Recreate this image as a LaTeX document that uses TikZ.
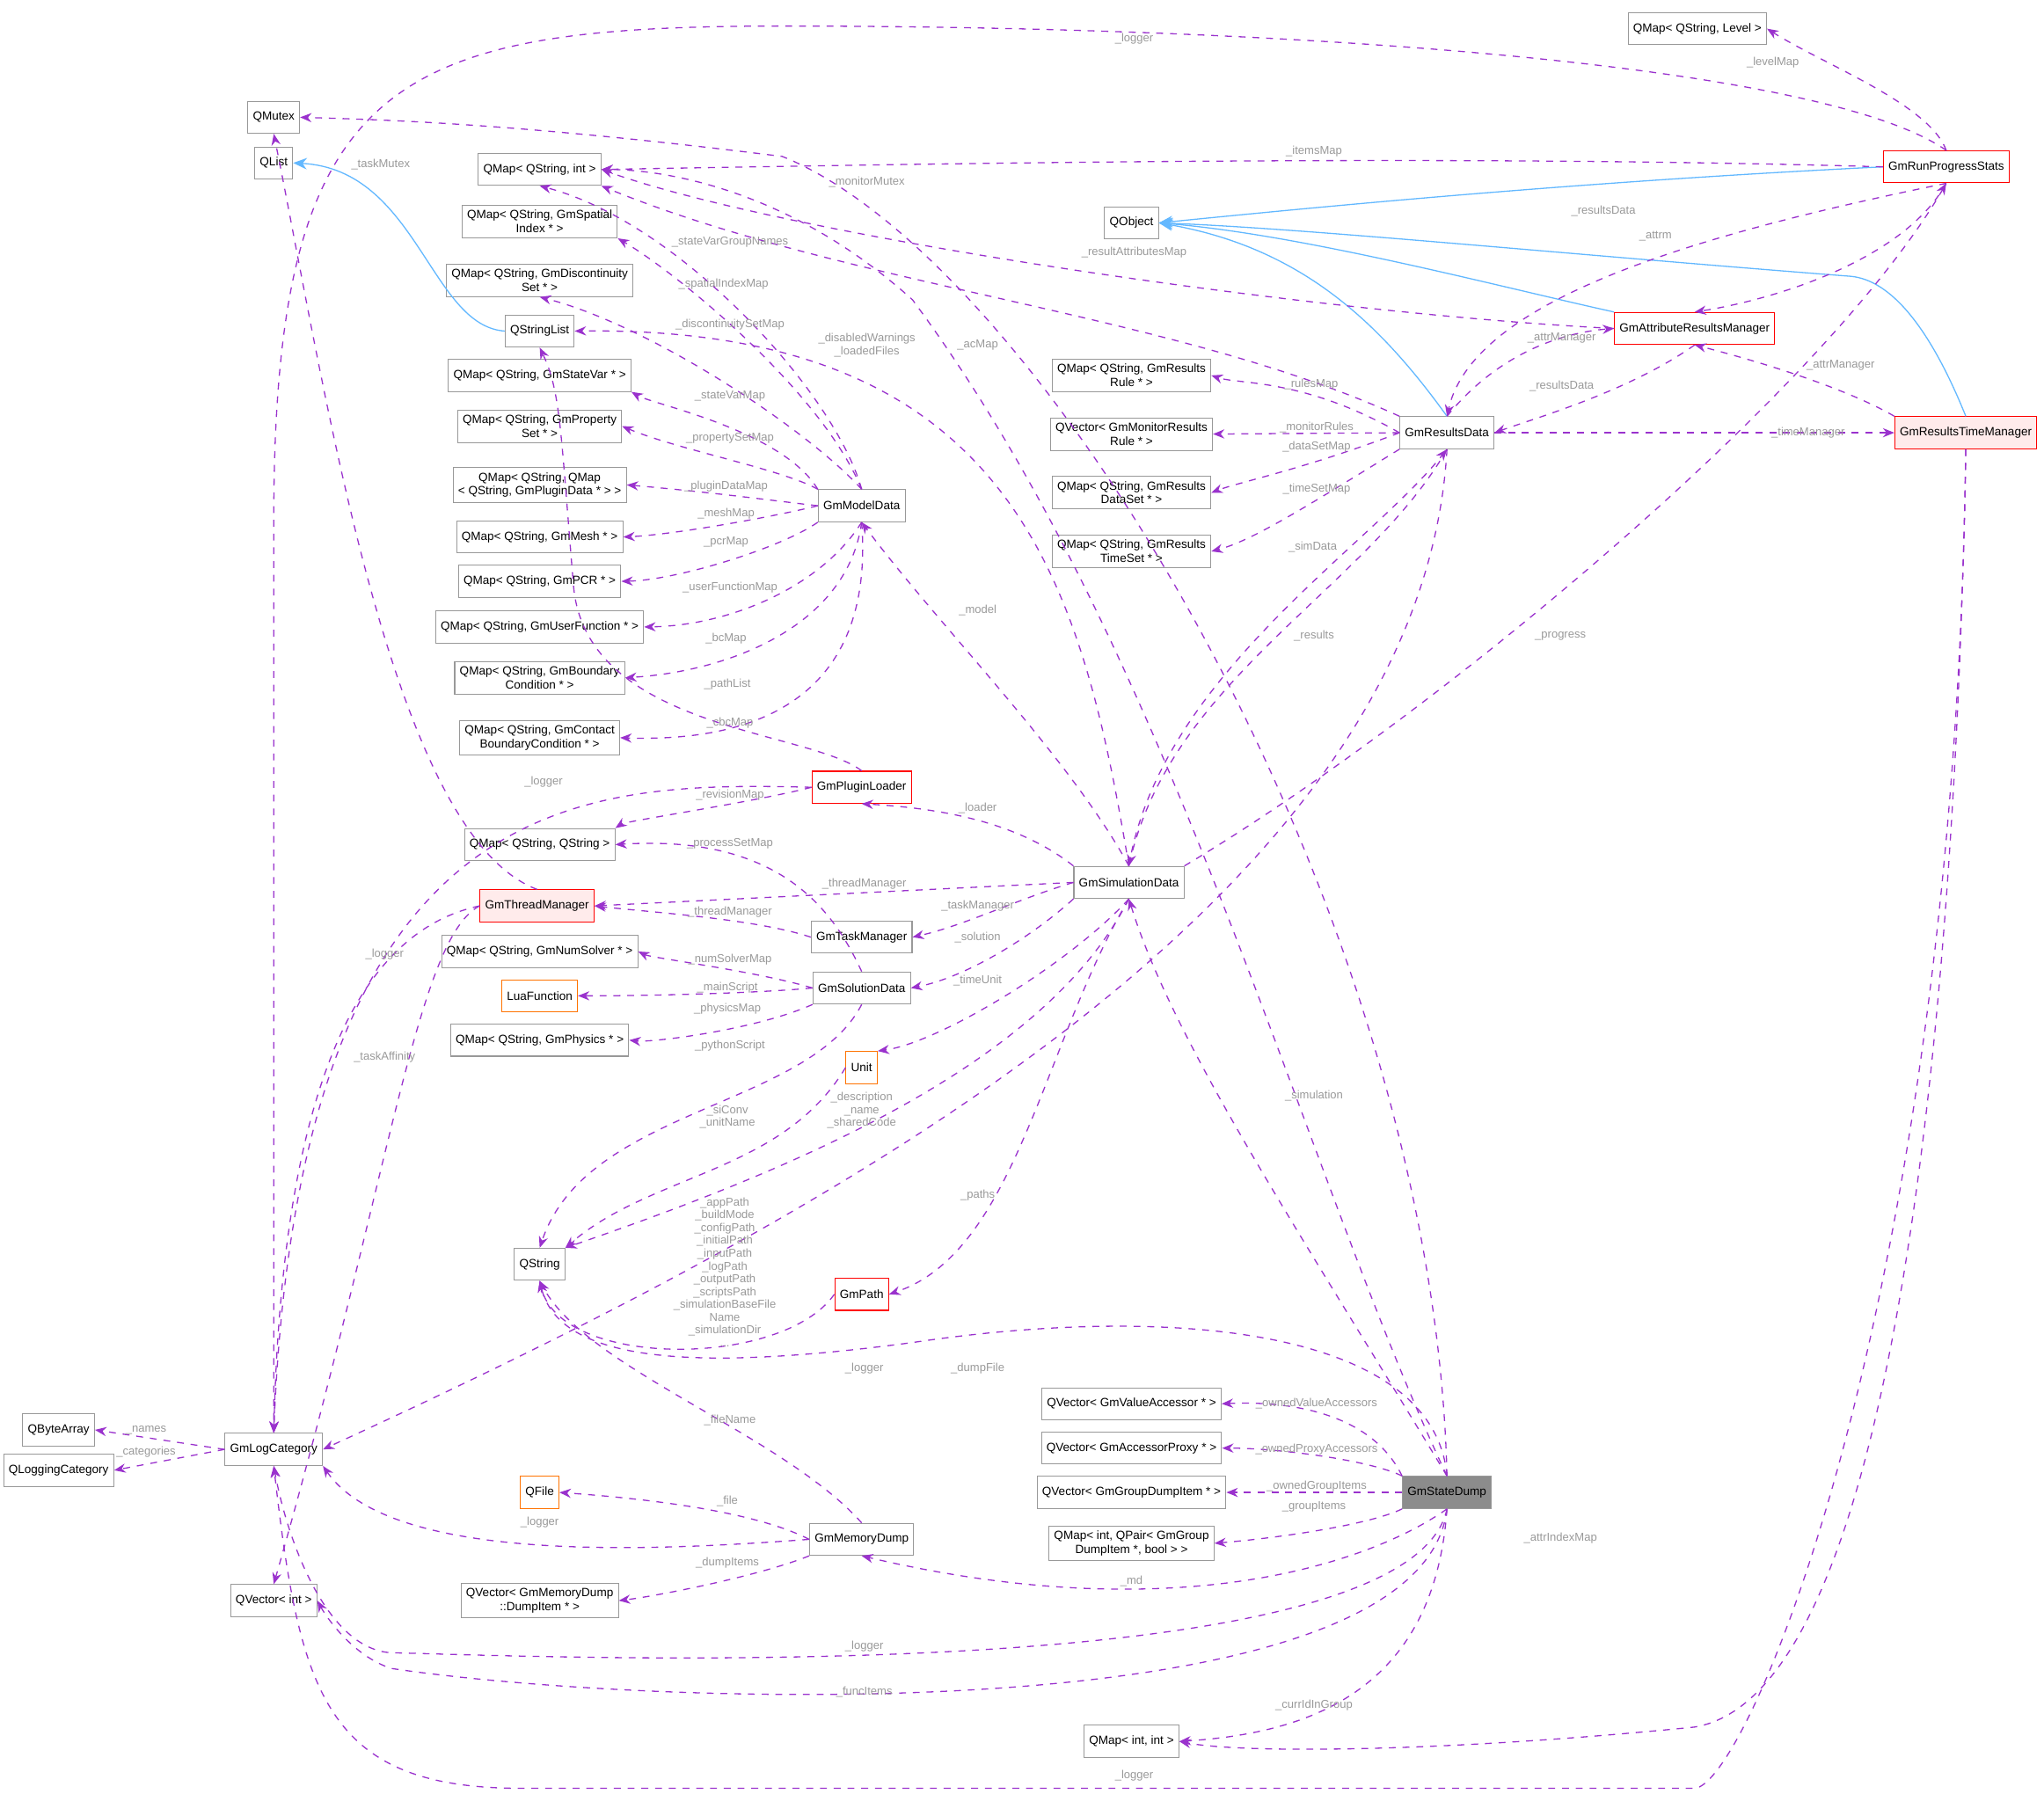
\documentclass[tikz,border=0pt]{standalone}
\usepackage{fontspec}
\setmainfont{Liberation Sans}
\usetikzlibrary{arrows.meta}
\begin{document}
\begin{tikzpicture}[x=0.02cm,y=-0.02cm,
 n/.style={draw=black!40,fill=white,font=\fontsize{5.2}{6}\selectfont,inner sep=2.2pt,align=center,minimum height=14},
 r/.style={n,draw=red},
 o/.style={n,draw=orange!90!red},
 e/.style={draw={rgb,255:red,154;green,50;blue,205},dashed,line width=0.5pt,-{Stealth[length=5pt,width=4pt]}},
 b/.style={draw={rgb,255:red,99;green,184;blue,255},line width=0.5pt,-{Stealth[length=6pt,width=5pt]}},
 l/.style={font=\fontsize{5}{5.6}\selectfont,text=black!40,inner sep=0pt,align=center}]
\useasboundingbox (0,0) rectangle (1568,1376);
% nodes
\node[n] (lvl) at (1302,22) {QMap< QString, Level >};
\node[n] (mutex) at (210,90) {QMutex};
\node[n] (qlist) at (210,125) {QList};
\node[n] (msi) at (414,130) {QMap< QString, int >};
\node[r] (rps) at (1493,128) {GmRunProgressStats};
\node[n] (qobj) at (868,171) {QObject};
\node[n] (spat) at (414,170) {QMap< QString, GmSpatial\\Index * >};
\node[n] (disc) at (414,215) {QMap< QString, GmDiscontinuity\\Set * >};
\node[n] (qsl) at (414,254) {QStringList};
\node[r] (arm) at (1300,252) {GmAttributeResultsManager};
\node[n] (sv) at (414,288) {QMap< QString, GmStateVar * >};
\node[n] (ps) at (414,327) {QMap< QString, GmProperty\\Set * >};
\node[n] (rr) at (868,288) {QMap< QString, GmResults\\Rule * >};
\node[n] (mr) at (868,333) {QVector< GmMonitorResults\\Rule * >};
\node[n] (rd) at (1110,332) {GmResultsData};
\node[r,fill=red!8] (rtm) at (1508,332) {GmResultsTimeManager};
\node[n] (pd) at (414,372) {QMap< QString, QMap\\< QString, GmPluginData * > >};
\node[n] (md) at (661,388) {GmModelData};
\node[n] (rds) at (868,378) {QMap< QString, GmResults\\DataSet * >};
\node[n] (mesh) at (414,412) {QMap< QString, GmMesh * >};
\node[n] (rts) at (868,423) {QMap< QString, GmResults\\TimeSet * >};
\node[n] (pcr) at (414,446) {QMap< QString, GmPCR * >};
\node[n] (uf) at (414,481) {QMap< QString, GmUserFunction * >};
\node[n] (bc) at (414,520) {QMap< QString, GmBoundary\\Condition * >};
\node[n] (cbc) at (414,566) {QMap< QString, GmContact\\BoundaryCondition * >};
\node[r] (pl) at (661,604) {GmPluginLoader};
\node[n] (mss) at (414,648) {QMap< QString, QString >};
\node[n] (sd) at (866,677) {GmSimulationData};
\node[r,fill=red!8] (tm) at (412,695) {GmThreadManager};
\node[n] (tsk) at (661,719) {GmTaskManager};
\node[n] (ns) at (414,730) {QMap< QString, GmNumSolver * >};
\node[o] (lua) at (414,764) {LuaFunction};
\node[n] (sol) at (661,758) {GmSolutionData};
\node[n] (phy) at (414,798) {QMap< QString, GmPhysics * >};
\node[o] (unit) at (661,819) {Unit};
\node[n] (qs) at (414,970) {QString};
\node[r] (path) at (661,993) {GmPath};
\node[n] (va) at (868,1077) {QVector< GmValueAccessor * >};
\node[n] (qba) at (45,1097) {QByteArray};
\node[n] (lc) at (210,1112) {GmLogCategory};
\node[n] (ap) at (868,1111) {QVector< GmAccessorProxy * >};
\node[n] (qlc) at (45,1128) {QLoggingCategory};
\node[n] (gdi) at (868,1145) {QVector< GmGroupDumpItem * >};
\node[n,fill=black!45] (dump) at (1110,1145) {GmStateDump};
\node[o] (qf) at (414,1145) {QFile};
\node[n] (gi) at (868,1184) {QMap< int, QPair< GmGroup\\DumpItem *, bool > >};
\node[n] (mem) at (661,1181) {GmMemoryDump};
\node[n] (mdi) at (414,1228) {QVector< GmMemoryDump\\::DumpItem * >};
\node[n] (qvi) at (210,1228) {QVector< int >};
\node[n] (mii) at (868,1336) {QMap< int, int >};
% inheritance
\draw[b] (rps.west) .. controls (1200,140) and (1000,160) .. (qobj.east);
\draw[b] (arm.north west) .. controls (1150,220) and (1000,180) .. (qobj.east);
\draw[b] (rd.north) .. controls (1060,250) and (1000,190) .. (qobj.east);
\draw[b] (rtm.north) .. controls (1480,250) and (1450,215) .. (1420,212) .. controls (1200,195) and (1000,175) .. (qobj.east);
\draw[b] (qsl.west) .. controls (330,250) and (320,130) .. (qlist.east);
% run progress stats
\draw[e] (rps.north) .. controls (1480,80) and (1400,50) .. (lvl.east);
\draw[e] (rps.north) .. controls (1400,50) and (1000,20) .. (600,20) .. controls (300,20) and (210,60) .. (210,400) -- (lc.north);
\draw[e] (rps.west) .. controls (1100,118) and (700,126) .. (msi.east);
\draw[e] (rps.south) .. controls (1300,180) and (1130,230) .. (rd.north);
\draw[e] (rps.south) .. controls (1460,200) and (1360,230) .. (arm.north);
% attr results manager
\draw[e] (arm.west) .. controls (1000,240) and (600,180) .. (msi.east);
\draw[e] (arm.south) .. controls (1250,300) and (1180,320) .. (rd.east);
\draw[e] (rd.north) .. controls (1150,270) and (1200,255) .. (arm.west);
% results time manager
\draw[e] (rtm.north west) .. controls (1420,300) and (1360,280) .. (arm.south);
\draw[e] (rd.east) -- (rtm.west);
\draw[e] (rtm.south) .. controls (1500,800) and (1450,1300) .. (1300,1325) .. controls (1100,1345) and (950,1345) .. (mii.east);
\draw[e] (rtm.south) .. controls (1500,1000) and (1340,1370) .. (1300,1372) -- (400,1372) .. controls (250,1372) and (230,1300) .. (lc.south);
% results data
\draw[e] (rd.west) .. controls (1000,290) and (950,295) .. (rr.east);
\draw[e] (rd.west) -- (mr.east);
\draw[e] (rd.west) .. controls (1000,360) and (950,370) .. (rds.east);
\draw[e] (rd.south west) .. controls (1000,390) and (960,415) .. (rts.east);
\draw[e] (rd.south) .. controls (1050,450) and (900,520) .. (sd.north);
\draw[e] (sd.north) .. controls (890,520) and (1050,420) .. (rd.south);
\draw[e] (rd.north west) .. controls (900,240) and (650,220) .. (msi.south east);
\draw[e] (rd.south) .. controls (1090,700) and (600,950) .. (lc.east);
% simulation data
\draw[e] (sd.north east) .. controls (1100,550) and (1400,300) .. (rps.south);
\draw[e] (sd.north) .. controls (820,580) and (720,480) .. (md.south);
\draw[e] (sd.north west) .. controls (780,630) and (720,620) .. (pl.south);
\draw[e] (sd.west) -- (tm.east);
\draw[e] (sd.west) .. controls (780,690) and (740,710) .. (tsk.east);
\draw[e] (sd.south west) .. controls (790,720) and (740,750) .. (sol.east);
\draw[e] (sd.south) .. controls (820,740) and (720,800) .. (unit.north east);
\draw[e] (sd.south) .. controls (800,800) and (780,960) .. (path.east);
\draw[e] (sd.south) .. controls (800,820) and (600,900) .. (qs.north east);
\draw[e] (sd.north) .. controls (830,450) and (780,250) .. (qsl.east);
% model data
\draw[e] (md.north) .. controls (640,300) and (520,170) .. (msi.south);
\draw[e] (md.north) .. controls (630,300) and (520,210) .. (spat.south east);
\draw[e] (md.north) .. controls (620,330) and (500,250) .. (disc.south);
\draw[e] (md.north west) .. controls (600,330) and (500,310) .. (sv.south east);
\draw[e] (md.north west) .. controls (600,360) and (520,345) .. (ps.east);
\draw[e] (md.west) .. controls (600,385) and (550,378) .. (pd.east);
\draw[e] (md.west) .. controls (600,395) and (520,410) .. (mesh.east);
\draw[e] (md.south west) .. controls (600,420) and (520,445) .. (pcr.east);
\draw[e] (md.south) .. controls (630,450) and (560,480) .. (uf.east);
\draw[e] (md.south) .. controls (650,480) and (560,515) .. (bc.east);
\draw[e] (md.south) .. controls (670,520) and (600,570) .. (cbc.east);
% plugin loader
\draw[e] (pl.north) .. controls (620,560) and (450,560) .. (440,450) .. controls (430,330) and (430,300) .. (qsl.south);
\draw[e] (pl.west) .. controls (580,615) and (480,630) .. (mss.north east);
\draw[e] (pl.west) .. controls (450,600) and (230,600) .. (lc.north);
% thread manager
\draw[e] (tm.north) .. controls (300,640) and (250,300) .. (mutex.south);
\draw[e] (tm.west) .. controls (250,720) and (215,900) .. (lc.north);
\draw[e] (tm.west) .. controls (320,720) and (300,900) .. (qvi.north);
\draw[e] (tsk.west) .. controls (580,705) and (500,700) .. (tm.east);
% solution data
\draw[e] (sol.north) .. controls (640,700) and (600,640) .. (mss.east);
\draw[e] (sol.west) .. controls (580,745) and (500,735) .. (ns.east);
\draw[e] (sol.west) .. controls (580,762) and (500,764) .. (lua.east);
\draw[e] (sol.south west) .. controls (580,790) and (500,800) .. (phy.east);
\draw[e] (sol.south) .. controls (620,850) and (450,850) .. (qs.north);
\draw[e] (unit.west) .. controls (600,900) and (500,900) .. (qs.north east);
\draw[e] (path.west) .. controls (600,1050) and (430,1050) .. (qs.south);
% log category
\draw[e] (lc.west) -- (qba.east);
\draw[e] (lc.west) -- (qlc.east);
% state dump
\draw[e] (dump.north) .. controls (1000,950) and (900,800) .. (sd.south);
\draw[e] (dump.north) .. controls (1100,1020) and (900,1000) .. (700,1030) .. controls (550,1050) and (430,1050) .. (qs.south);
\draw[e] (dump.north) .. controls (1000,900) and (900,500) .. (700,230) .. controls (600,140) and (500,130) .. (msi.east);
\draw[e] (dump.north) .. controls (1100,700) and (800,200) .. (600,120) .. controls (400,95) and (300,92) .. (mutex.east);
\draw[e] (dump.north west) .. controls (1050,1080) and (980,1075) .. (va.east);
\draw[e] (dump.north west) .. controls (1050,1120) and (980,1111) .. (ap.east);
\draw[e] (dump.west) -- (gdi.east);
\draw[e] (dump.south west) .. controls (1050,1170) and (980,1180) .. (gi.east);
\draw[e] (dump.south) .. controls (1050,1200) and (900,1250) .. (mem.south);
\draw[e] (dump.south) .. controls (1080,1300) and (400,1270) .. (300,1268) .. controls (250,1265) and (220,1180) .. (lc.south);
\draw[e] (dump.south) .. controls (1090,1330) and (500,1310) .. (300,1280) .. controls (270,1270) and (250,1240) .. (qvi.east);
\draw[e] (dump.south) .. controls (1100,1300) and (1000,1330) .. (mii.east);
% memory dump
\draw[e] (mem.west) .. controls (580,1160) and (500,1150) .. (qf.east);
\draw[e] (mem.west) .. controls (500,1190) and (300,1200) .. (lc.south east);
\draw[e] (mem.south west) .. controls (580,1210) and (500,1225) .. (mdi.east);
\draw[e] (mem.north) .. controls (600,1100) and (450,1050) .. (qs.south);
% labels
\node[l] at (1360,48) {\_levelMap};
\node[l] at (870,30) {\_logger};
\node[l] at (1008,116) {\_itemsMap};
\node[l] at (1270,181) {\_attrm};
\node[l] at (1230,162) {\_resultsData};
\node[l] at (870,194) {\_resultAttributesMap};
\node[l] at (665,140) {\_monitorMutex};
\node[l] at (560,186) {\_stateVarGroupNames};
\node[l] at (555,218) {\_spatialIndexMap};
\node[l] at (560,249) {\_discontinuitySetMap};
\node[l] at (665,265) {\_disabledWarnings\\\_loadedFiles};
\node[l] at (750,265) {\_acMap};
\node[l] at (1198,259) {\_attrManager};
\node[l] at (1198,296) {\_resultsData};
\node[l] at (1412,280) {\_attrManager};
\node[l] at (1006,295) {\_rulesMap};
\node[l] at (1010,328) {\_monitorRules};
\node[l] at (1010,343) {\_dataSetMap};
\node[l] at (1010,375) {\_timeSetMap};
\node[l] at (1007,420) {\_simData};
\node[l] at (1387,332) {\_timeManager};
\node[l] at (560,304) {\_stateVarMap};
\node[l] at (560,336) {\_propertySetMap};
\node[l] at (557,373) {\_pluginDataMap};
\node[l] at (557,394) {\_meshMap};
\node[l] at (557,416) {\_pcrMap};
\node[l] at (560,451) {\_userFunctionMap};
\node[l] at (557,490) {\_bcMap};
\node[l] at (558,525) {\_pathList};
\node[l] at (560,555) {\_cbcMap};
\node[l] at (750,468) {\_model};
\node[l] at (1008,488) {\_results};
\node[l] at (1197,488) {\_progress};
\node[l] at (417,600) {\_logger};
\node[l] at (560,610) {\_revisionMap};
\node[l] at (750,620) {\_loader};
\node[l] at (560,647) {\_processSetMap};
\node[l] at (663,678) {\_threadManager};
\node[l] at (560,700) {\_threadManager};
\node[l] at (750,695) {\_taskManager};
\node[l] at (750,719) {\_solution};
\node[l] at (560,736) {\_numSolverMap};
\node[l] at (558,758) {\_mainScript};
\node[l] at (558,774) {\_physicsMap};
\node[l] at (750,752) {\_timeUnit};
\node[l] at (560,802) {\_pythonScript};
\node[l] at (295,732) {\_logger};
\node[l] at (295,811) {\_taskAffinity};
\node[l] at (292,126) {\_taskMutex};
\node[l] at (558,857) {\_siConv\\\_unitName};
\node[l] at (661,852) {\_description\\\_name\\\_sharedCode};
\node[l] at (750,917) {\_paths};
\node[l] at (1008,841) {\_simulation};
\node[l] at (556,976) {\_appPath\\\_buildMode\\\_configPath\\\_initialPath\\\_inputPath\\\_logPath\\\_outputPath\\\_scriptsPath\\\_simulationBaseFile\\Name\\\_simulationDir\\...};
\node[l] at (663,1050) {\_logger};
\node[l] at (750,1050) {\_dumpFile};
\node[l] at (560,1090) {\_fileName};
\node[l] at (1010,1077) {\_ownedValueAccessors};
\node[l] at (1010,1112) {\_ownedProxyAccessors};
\node[l] at (1010,1140) {\_ownedGroupItems};
\node[l] at (1008,1156) {\_groupItems};
\node[l] at (1197,1180) {\_attrIndexMap};
\node[l] at (558,1152) {\_file};
\node[l] at (414,1168) {\_logger};
\node[l] at (558,1199) {\_dumpItems};
\node[l] at (868,1213) {\_md};
\node[l] at (663,1263) {\_logger};
\node[l] at (663,1298) {\_funcItems};
\node[l] at (1008,1308) {\_currIdInGroup};
\node[l] at (870,1362) {\_logger};
\node[l] at (112,1097) {\_names};
\node[l] at (112,1114) {\_categories};
\end{tikzpicture}
\end{document}
